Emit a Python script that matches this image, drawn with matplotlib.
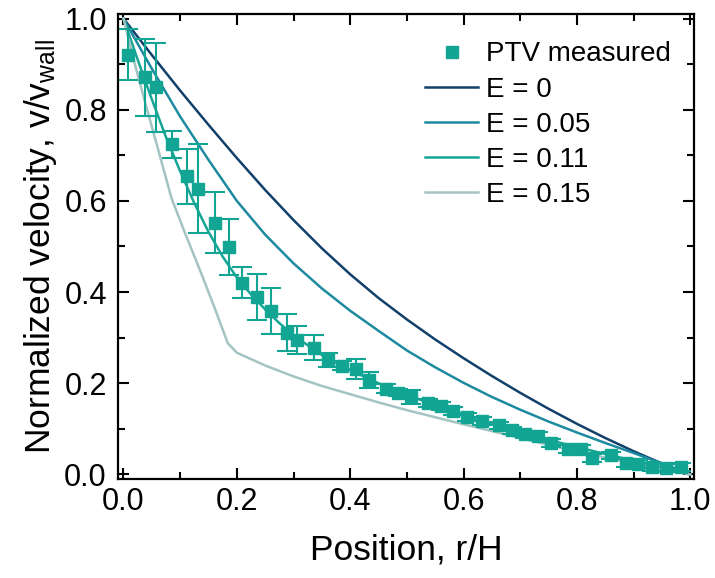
import numpy as np
import matplotlib.pyplot as plt

plt.rcParams['font.family'] = ['Liberation Sans', 'DejaVu Sans']
plt.rcParams['mathtext.fontset'] = 'custom'
plt.rcParams['mathtext.rm'] = 'Liberation Sans'
plt.rcParams['mathtext.it'] = 'Liberation Sans'

# PTV measurements
r_meas = [0.008, 0.038, 0.057, 0.085, 0.112, 0.131, 0.161, 0.186, 0.209, 0.235,
          0.260, 0.288, 0.307, 0.337, 0.360, 0.385, 0.410, 0.433, 0.463, 0.484,
          0.508, 0.537, 0.560, 0.582, 0.607, 0.632, 0.662, 0.685, 0.709, 0.732,
          0.755, 0.785, 0.808, 0.826, 0.861, 0.887, 0.907, 0.933, 0.958, 0.984]
v_meas = [0.921, 0.871, 0.849, 0.724, 0.654, 0.627, 0.552, 0.499, 0.420, 0.389,
          0.359, 0.311, 0.295, 0.278, 0.251, 0.238, 0.231, 0.207, 0.188, 0.179,
          0.170, 0.157, 0.150, 0.139, 0.126, 0.117, 0.108, 0.097, 0.088, 0.084,
          0.069, 0.056, 0.056, 0.036, 0.042, 0.025, 0.023, 0.016, 0.014, 0.016]
v_err = [0.055, 0.085, 0.098, 0.029, 0.060, 0.097, 0.067, 0.062, 0.034, 0.050,
         0.050, 0.040, 0.031, 0.027, 0.016, 0.010, 0.022, 0.018, 0.010, 0.008,
         0.015, 0.008, 0.008, 0.008, 0.008, 0.008, 0.008, 0.008, 0.008, 0.008,
         0.008, 0.008, 0.008, 0.008, 0.008, 0.008, 0.008, 0.008, 0.008, 0.008]

# model curves
r_e0 = [0, 0.05, 0.1, 0.15, 0.2, 0.25, 0.3, 0.35, 0.4, 0.45, 0.5,
        0.55, 0.6, 0.65, 0.7, 0.75, 0.8, 0.85, 0.9, 0.95, 1.0]
v_e0 = [1.0, 0.920, 0.842, 0.767, 0.694, 0.624, 0.558, 0.496, 0.439, 0.387, 0.340,
        0.296, 0.255, 0.216, 0.179, 0.144, 0.111, 0.080, 0.051, 0.024, 0.0]

r_e005 = [0, 0.05, 0.1, 0.15, 0.2, 0.25, 0.3, 0.35, 0.4, 0.45, 0.5,
          0.55, 0.6, 0.65, 0.7, 0.75, 0.8, 0.85, 0.9, 0.95, 1.0]
v_e005 = [1.0, 0.890, 0.785, 0.690, 0.600, 0.526, 0.463, 0.408, 0.359, 0.315, 0.272,
          0.235, 0.201, 0.170, 0.142, 0.116, 0.092, 0.069, 0.047, 0.024, 0.0]

r_e011 = [0, 0.025, 0.05, 0.075, 0.1, 0.125, 0.15, 0.175, 0.2, 0.225, 0.25,
          0.275, 0.3, 0.35, 0.4, 0.45, 0.5, 0.6, 0.7, 0.8, 0.9, 1.0]
v_e011 = [1.0, 0.910, 0.823, 0.740, 0.665, 0.595, 0.532, 0.478, 0.432, 0.395, 0.362,
          0.332, 0.305, 0.262, 0.229, 0.200, 0.175, 0.128, 0.092, 0.060, 0.030, 0.0]

r_e015 = [0, 0.02, 0.04, 0.06, 0.085, 0.11, 0.135, 0.16, 0.184, 0.2, 0.25,
          0.3, 0.35, 0.4, 0.45, 0.5, 0.6, 0.7, 0.8, 0.9, 1.0]
v_e015 = [1.0, 0.900, 0.808, 0.718, 0.605, 0.525, 0.448, 0.368, 0.288, 0.267, 0.239,
          0.215, 0.194, 0.176, 0.158, 0.141, 0.110, 0.080, 0.050, 0.024, 0.0]

# small origin cross drawn by the plotting software
r_orig = [0.0]
v_orig = [0.0]

labels = ['E = 0', 'E = 0.05', 'E = 0.11', 'E = 0.15']
colors = ['#11406a', '#1d8a9f', '#17a696', '#a4c4c3']
meas_color = '#12a594'

fig = plt.figure(figsize=(7.15, 5.78), dpi=100)
ax = fig.add_axes([0.165, 0.1713, 0.8056, 0.8045])

curves = [(r_e0, v_e0), (r_e005, v_e005), (r_e011, v_e011), (r_e015, v_e015)]
handles = []
for (r, v), lab, c in zip(curves, labels, colors):
    h, = ax.plot(r, v, color=c, lw=1.8, label=lab)
    handles.append(h)

ax.plot(r_orig, v_orig, '+', color='k', ms=7, mew=1.2)

ax.errorbar(r_meas, v_meas, yerr=v_err, fmt='none', ecolor=meas_color,
            elinewidth=1.5, capsize=7, capthick=1.5)
hm, = ax.plot(r_meas, v_meas, 's', color=meas_color, ms=9, ls='none',
              label='PTV measured')

ax.set_xlim(-0.0097, 1.0066)
ax.set_ylim(-0.01, 1.01)
ax.set_xticks(np.arange(0, 1.01, 0.2))
ax.set_yticks(np.arange(0, 1.01, 0.2))
ax.set_xticks(np.arange(0.1, 1.0, 0.2), minor=True)
ax.set_yticks(np.arange(0.1, 1.0, 0.2), minor=True)
ax.tick_params(which='both', direction='in', top=True, right=True, width=1.5)
ax.tick_params(which='major', length=8, labelsize=22)
ax.tick_params(which='minor', length=5)
ax.tick_params(axis='x', pad=6)
ax.tick_params(axis='y', pad=8)
for s in ax.spines.values():
    s.set_linewidth(1.6)

ax.set_xlabel('Position, r/H', fontsize=25.5, labelpad=12)
ax.set_ylabel(r'Normalized velocity, v/v$_{\mathrm{wall}}$', fontsize=25.5, labelpad=4)

ax.legend([hm] + handles, ['PTV measured'] + labels, loc='upper right',
          bbox_to_anchor=(0.98, 0.965), frameon=False, fontsize=20,
          handlelength=1.9, handletextpad=0.3, labelspacing=0.33,
          borderaxespad=0.0)

fig.savefig('out.png', dpi=100)
